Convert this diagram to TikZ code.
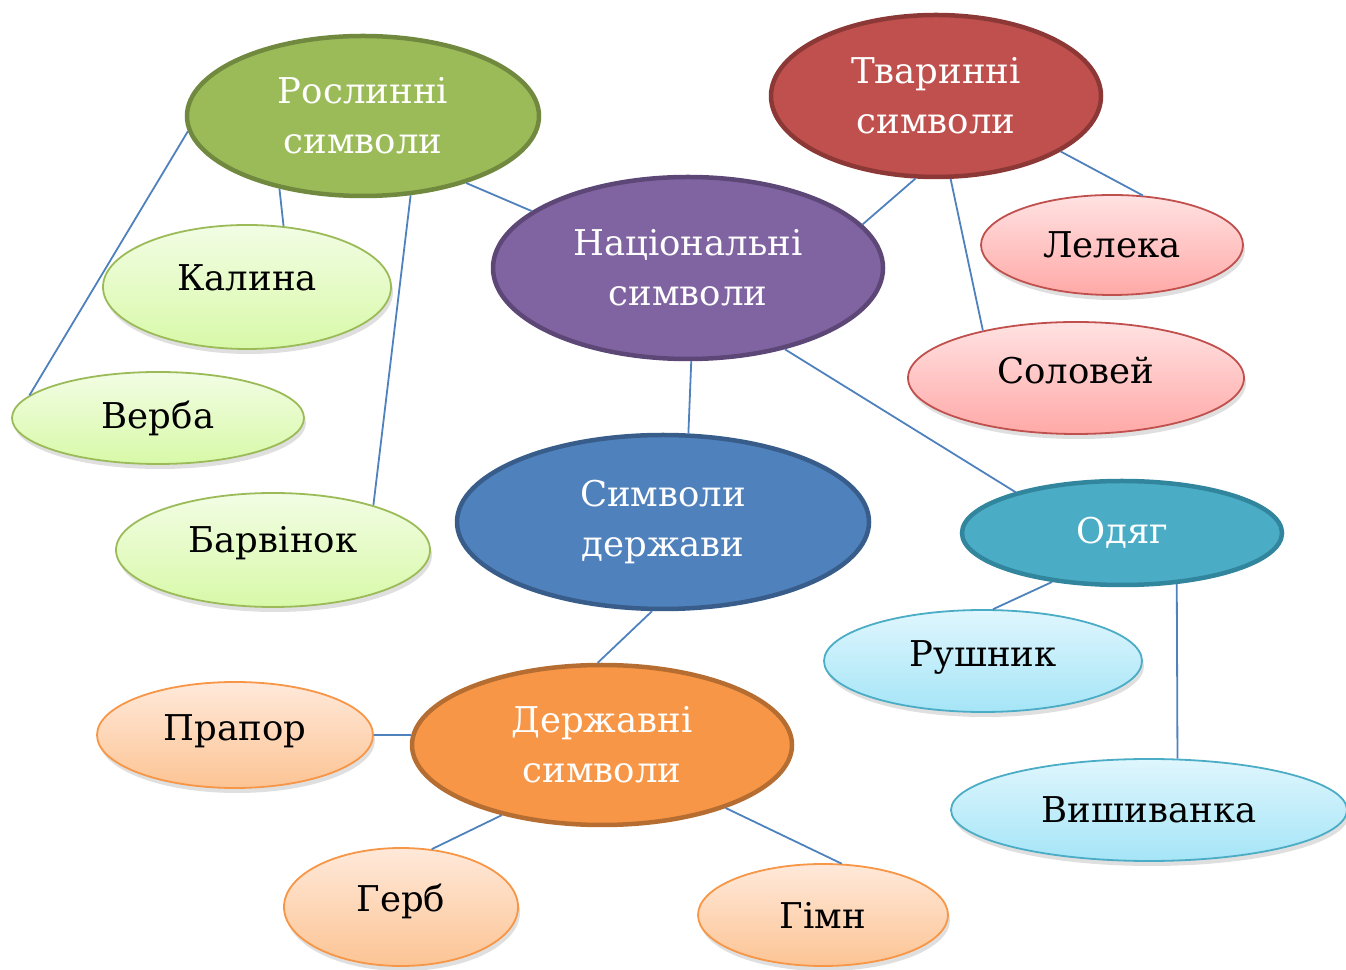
\documentclass[tikz,border=0pt]{standalone}
\usepackage{fontspec}
\setmainfont{DejaVu Serif}
\usetikzlibrary{shapes.geometric,shadows}
\definecolor{gD}{HTML}{9BBB59}\definecolor{gB}{HTML}{71893F}
\definecolor{rD}{HTML}{C0504D}\definecolor{rB}{HTML}{8C3836}
\definecolor{pD}{HTML}{8064A2}\definecolor{pB}{HTML}{5C4776}
\definecolor{bD}{HTML}{4F81BD}\definecolor{bB}{HTML}{385D8A}
\definecolor{cD}{HTML}{4BACC6}\definecolor{cB}{HTML}{31859C}
\definecolor{oD}{HTML}{F79646}\definecolor{oB}{HTML}{B66D31}
\definecolor{gT}{HTML}{F2FDE4}\definecolor{gL}{HTML}{D8F9A8}
\definecolor{rT}{HTML}{FFE2E2}\definecolor{rL}{HTML}{FFA9A7}
\definecolor{cT}{HTML}{DFF6FD}\definecolor{cL}{HTML}{A5E5F7}
\definecolor{oT}{HTML}{FFE9DA}\definecolor{oL}{HTML}{FCC494}
\definecolor{link}{HTML}{4F81BD}
\newcommand{\upby}[2]{\raisebox{#1}[\height][\depth]{#2}}
\tikzset{
  main/.style={ellipse,inner sep=0pt,line width=4.5pt,text=white,align=center,
    font=\fontsize{35.5}{50}\selectfont},
  leaf/.style={ellipse,inner sep=0pt,line width=1.8pt,text=black,align=center,
    font=\fontsize{35.5}{40}\selectfont,
    drop shadow={opacity=0.25,shadow xshift=2pt,shadow yshift=-5pt}},
  gleaf/.style={leaf,draw=gD,top color=gT,bottom color=gL},
  rleaf/.style={leaf,draw=rD,top color=rT,bottom color=rL},
  cleaf/.style={leaf,draw=cD,top color=cT,bottom color=cL},
  oleaf/.style={leaf,draw=oD,top color=oT,bottom color=oL},
  conn/.style={draw=link,line width=1.8pt},
}
\begin{document}
\begin{tikzpicture}[x=1pt,y=1pt]
\useasboundingbox (0,0) rectangle (1346,969);
% main nodes
\node[main,fill=gD,draw=gB,minimum width=352,minimum height=160] (ros) at (363,853) {Рослинні\\символи};
\node[main,fill=rD,draw=rB,minimum width=330,minimum height=162] (tva) at (936,873) {Тваринні\\символи};
\node[main,fill=pD,draw=pB,minimum width=390,minimum height=182] (nat) at (688,701) {Національні\\символи};
\node[main,fill=bD,draw=bB,minimum width=412,minimum height=174] (der) at (663,447) {Символи\\держави};
\node[main,fill=cD,draw=cB,minimum width=320,minimum height=104] (odj) at (1122,436) {Одяг};
\node[main,fill=oD,draw=oB,minimum width=380,minimum height=160] (dsy) at (602,224) {Державні\\символи};
% leaves
\node[gleaf,minimum width=288,minimum height=124] (kal) at (247,682) {\upby{9pt}{Калина}};
\node[gleaf,minimum width=292,minimum height=92] (ver) at (158,551) {Верба};
\node[gleaf,minimum width=314,minimum height=114] (bar) at (273,419) {\upby{7pt}{Барвінок}};
\node[rleaf,minimum width=262,minimum height=100] (lel) at (1112,724) {Лелека};
\node[rleaf,minimum width=336,minimum height=112] (sol) at (1076,591) {\upby{7pt}{Соловей}};
\node[cleaf,minimum width=318,minimum height=102] (rus) at (983,308) {\upby{3pt}{Рушник}};
\node[cleaf,minimum width=396,minimum height=102] (vys) at (1149,159) {Вишиванка};
\node[oleaf,minimum width=276,minimum height=106] (pra) at (235,234) {\upby{4pt}{Прапор}};
\node[oleaf,minimum width=234,minimum height=118] (ger) at (401,62) {\upby{6pt}{Герб}};
\node[oleaf,minimum width=250,minimum height=102] (gim) at (823,54) {Гімн};
% connectors
\draw[conn] (ros.-33.4) -- (nat.160.8);
\draw[conn] (ros.-139.2) -- (kal.59.9);
\draw[conn] (ros.185.5) -- (ver.170.5);
\draw[conn] (ros.-59.6) -- (bar.24.7);
\draw[conn] (tva.-104) -- (nat.14.2);
\draw[conn] (tva.-24.3) -- (lel.58.2);
\draw[conn] (tva.-80.3) -- (sol.153.2);
\draw[conn] (nat.-88.8) -- (der.74.6);
\draw[conn] (nat.-40.6) -- (odj.159.9);
\draw[conn] (der.-97.7) -- (dsy.93.5);
\draw[conn] (odj.-145.5) -- (rus.79.3);
\draw[conn] (odj.-43.4) -- (vys.61.7);
\draw[conn] (dsy.177) -- (pra.0);
\draw[conn] (dsy.-145.3) -- (ger.62.3);
\draw[conn] (dsy.-27.1) -- (gim.70.9);
\end{tikzpicture}
\end{document}
